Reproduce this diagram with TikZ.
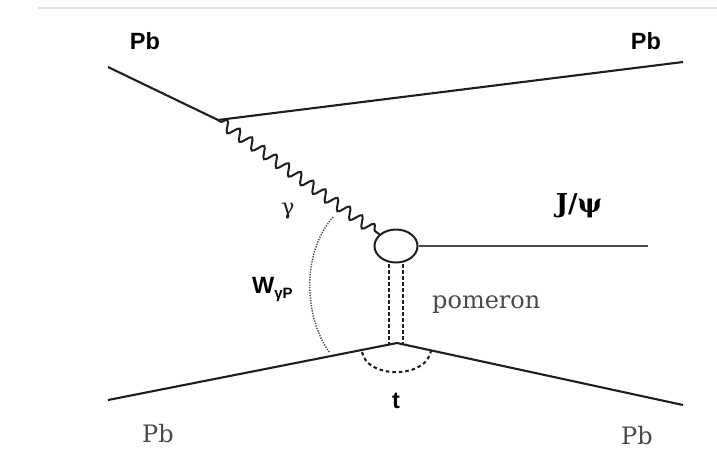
\documentclass[tikz,border=0pt]{standalone}
\usepackage{fontspec}
\setmainfont{DejaVu Serif}
\newfontfamily\labsans{Liberation Sans}
\usetikzlibrary{shapes.geometric,decorations.pathmorphing}
\definecolor{rule}{HTML}{E2E2E2}
\definecolor{ink}{HTML}{1E1E1E}
\definecolor{soft}{HTML}{4A4A4A}
\tikzset{
  x=1pt, y=-1pt,
  line/.style={draw=ink, line width=2.1pt},
  photon/.style={draw=ink, line width=2pt, decorate,
    decoration={snake, segment length=15pt, amplitude=5.5pt, pre length=3pt}},
  pomline/.style={draw=ink, line width=1.9pt, dash pattern=on 3.5pt off 2.5pt},
  tarc/.style={draw=ink, line width=2.1pt, dash pattern=on 3.5pt off 3pt},
  warc/.style={draw=soft, line width=1.4pt, dash pattern=on 1.3pt off 1.3pt},
  blob/.style={draw=ink, line width=2pt, ellipse, minimum width=43pt, minimum height=33pt, inner sep=0pt},
  sanslab/.style={font=\labsans\bfseries\fontsize{23.5}{25}\selectfont, text=black, inner sep=0pt},
  seriflab/.style={font=\fontsize{24}{26}\selectfont, text=soft, inner sep=0pt}
}
\begin{document}
\begin{tikzpicture}
\useasboundingbox (0,0) rectangle (717,451);
% top rule
\coordinate (r1) at (38,8);
\coordinate (r2) at (717,8);
\draw[rule, line width=1.5pt] (r1) -- (r2);
% vertices
\coordinate (P1) at (108,67);
\coordinate (A) at (218,120);
\coordinate (P2) at (683,62);
\coordinate (P3) at (108,400);
\coordinate (V) at (397,343);
\coordinate (P4) at (683,405);
\coordinate (J) at (648,246);
\node[blob] (E) at (396,246) {};
% lines
\draw[line] (P1) -- (A) -- (P2);
\draw[line] (P3) -- (V) -- (P4);
\draw[line, draw=soft] (E.east) -- (J);
\draw[photon] (A) -- (E);
% pomeron double line
\coordinate (pa) at (389,264);
\coordinate (pb) at (403,264);
\coordinate (qa) at (389,345);
\coordinate (qb) at (403,345);
\draw[pomline] (pa) -- (qa);
\draw[pomline] (pb) -- (qb);
% t arc
\coordinate (t1) at (362,352);
\coordinate (t2) at (431,351);
\draw[tarc] (t1) .. controls (367,379) and (426,379) .. (t2);
% W arc
\coordinate (w1) at (333,217);
\coordinate (w2) at (330,353);
\draw[warc] (w1) .. controls (300,255) and (305,320) .. (w2);
% labels
\node[sanslab] (pbtl) at (145,41) {Pb};
\node[sanslab] (pbtr) at (646,41) {Pb};
\node[seriflab, anchor=base west] (pbbl) at (142,442) {Pb};
\node[seriflab, anchor=base west] (pbbr) at (621,444) {Pb};
\node[font=\fontsize{22}{24}\selectfont, text=ink, inner sep=0pt] (gam) at (288,211) {γ};
\node[font=\bfseries\fontsize{26}{28}\selectfont, text=black, inner sep=0pt] (jpsi) at (579,206) {J/ψ};
\node[seriflab, anchor=base west] (pom) at (432,308) {pomeron};
\node[sanslab, anchor=base] (tlab) at (396,408) {t};
\node[sanslab, anchor=base west] (wlab) at (252,293) {W\raisebox{-5pt}{\fontsize{15}{16}\selectfont γP}};
\end{tikzpicture}
\end{document}
